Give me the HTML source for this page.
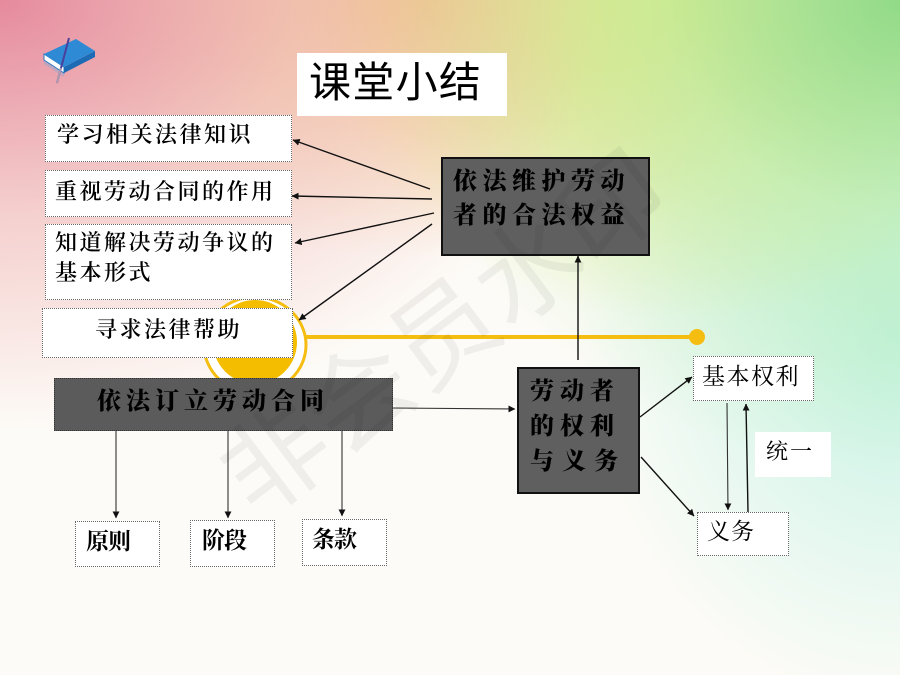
<!DOCTYPE html>
<html>
<head>
<meta charset="utf-8">
<style>
*{margin:0;padding:0;box-sizing:border-box;}
html,body{width:900px;height:675px;overflow:hidden;}
body{position:relative;font-family:"Liberation Serif","Noto Serif CJK SC",serif;
background:
 radial-gradient(ellipse 600px 430px at 0 0, rgba(228,132,152,0.95) 0%, rgba(236,165,165,0.5) 50%, rgba(240,200,190,0) 100%),
 radial-gradient(ellipse 520px 470px at 900px 0, rgba(145,218,135,1) 0%, rgba(180,235,170,0.6) 45%, rgba(200,245,220,0) 100%),
 radial-gradient(ellipse 360px 320px at 680px 0, rgba(236,232,112,1) 0%, rgba(240,238,150,0) 100%),
 radial-gradient(ellipse 320px 380px at 900px 330px, rgba(190,242,226,0.9) 0%, rgba(200,245,235,0) 100%),
 radial-gradient(ellipse 420px 260px at 430px 0, rgba(242,205,150,1) 0%, rgba(245,220,180,0) 100%),
 #fdfbf7;}
.abs{position:absolute;}
.wbox{position:absolute;background:#fff;border:1px dotted #666;}
.dbox{position:absolute;background:#5f5f5f;border:2px solid #111;}
.t{position:absolute;white-space:nowrap;color:#000;}
.lt{font-size:22px;letter-spacing:2.5px;line-height:30px;font-weight:600;font-family:"Liberation Serif","Noto Serif CJK SC",serif;}
.st{font-size:23px;line-height:30px;font-weight:700;letter-spacing:-1px;font-family:"Liberation Serif","Noto Serif CJK SC",serif;}
.rt{font-size:23px;line-height:30px;font-family:"Liberation Serif","Noto Serif CJK SC",serif;}
.svgdt{font-family:"Liberation Serif","Noto Serif CJK SC",serif;font-size:24px;font-weight:900;}
</style>
</head>
<body>

<!-- yellow decoration -->
<svg class="abs" style="left:0;top:0" width="900" height="675">
  <line x1="300" y1="337" x2="697" y2="337" stroke="#f5bd10" stroke-width="4"/>
  <circle cx="697" cy="337" r="8" fill="#f5bd10"/>
  <ellipse cx="255" cy="345" rx="51" ry="48" fill="#fff" stroke="#f5bd10" stroke-width="3"/>
  <circle cx="255" cy="342" r="42" fill="#f5bd00"/>
</svg>

<!-- book icon -->
<svg class="abs" style="left:0;top:0" width="120" height="100">
  <polygon points="44,60 64,73 64,77 44,64" fill="#7aa9d8" opacity="0.4"/>
  <polygon points="44,54 64,67 64,73 44,60" fill="#ffffff" stroke="#2a78c0" stroke-width="1"/>
  <polygon points="64,67 95,51 95,57 64,73" fill="#1d6bb5"/>
  <polygon points="44,54 76,39 95,51 64,67" fill="#2f8ad6"/>
  <line x1="69" y1="38" x2="57" y2="83" stroke="#4a3f9a" stroke-width="2"/>
  <line x1="61" y1="68" x2="57" y2="83" stroke="#b09ab0" stroke-width="2"/>
</svg>

<!-- title -->
<div class="abs" style="left:297px;top:53px;width:210px;height:63px;background:#fff;"></div>
<div class="t" style="left:309px;top:53px;font-size:42px;line-height:60px;letter-spacing:1.3px;font-family:'Liberation Sans','Noto Sans CJK SC',sans-serif;">课堂小结</div>

<!-- left white boxes -->
<div class="wbox" style="left:45px;top:115px;width:247px;height:47px;"></div>
<div class="t lt" style="left:57px;top:120px;">学习相关法律知识</div>

<div class="wbox" style="left:45px;top:170px;width:247px;height:47px;"></div>
<div class="t lt" style="left:55px;top:177px;">重视劳动合同的作用</div>

<div class="wbox" style="left:45px;top:224px;width:247px;height:76px;"></div>
<div class="t lt" style="left:55px;top:228px;">知道解决劳动争议的</div>
<div class="t lt" style="left:55px;top:258px;">基本形式</div>

<div class="wbox" style="left:42px;top:308px;width:251px;height:50px;"></div>
<div class="t lt" style="left:95px;top:315px;">寻求法律帮助</div>

<!-- dark boxes -->
<div class="dbox" style="left:441px;top:157px;width:209px;height:99px;"></div>
<div class="dbox" style="left:517px;top:367px;width:123px;height:127px;"></div>
<div class="abs" style="left:54px;top:378px;width:339px;height:53px;background:#5b5b5b;border:1px dotted #333;"></div>

<svg class="abs" style="left:0;top:0" width="900" height="675">
  <g class="svgdt" fill="#000">
    <text x="453" y="189" style="letter-spacing:5.5px">依法维护劳动</text>
    <text x="453" y="223" style="letter-spacing:5.5px">者的合法权益</text>
    <text x="530" y="399" style="letter-spacing:6px">劳动者</text>
    <text x="530" y="434" style="letter-spacing:6px">的权利</text>
    <text x="530" y="469" style="letter-spacing:8px">与义务</text>
    <text x="97" y="409" style="letter-spacing:5px">依法订立劳动合同</text>
  </g>
</svg>

<!-- bottom small boxes -->
<div class="wbox" style="left:75px;top:521px;width:85px;height:46px;"></div>
<div class="t st" style="left:86px;top:527px;">原则</div>
<div class="wbox" style="left:190px;top:520px;width:85px;height:47px;"></div>
<div class="t st" style="left:202px;top:526px;">阶段</div>
<div class="wbox" style="left:302px;top:519px;width:85px;height:47px;"></div>
<div class="t st" style="left:312px;top:525px;">条款</div>

<!-- right boxes -->
<div class="wbox" style="left:693px;top:356px;width:121px;height:45px;"></div>
<div class="t rt" style="left:702px;top:362px;letter-spacing:1.5px;">基本权利</div>
<div class="wbox" style="left:697px;top:512px;width:92px;height:44px;"></div>
<div class="t rt" style="left:707px;top:517px;letter-spacing:1px;">义务</div>
<div class="abs" style="left:755px;top:432px;width:76px;height:45px;background:#fff;"></div>
<div class="t rt" style="left:766px;top:437px;font-size:22px;letter-spacing:2px;">统一</div>

<!-- arrows -->
<svg class="abs" style="left:0;top:0" width="900" height="675">
  <defs>
    <marker id="ah" viewBox="0 0 10 10" refX="9.5" refY="5" markerWidth="7" markerHeight="7" markerUnits="userSpaceOnUse" orient="auto">
      <path d="M0,0 L10,5 L0,10 z" fill="#111"/>
    </marker>
  </defs>
  <g stroke="#111" stroke-width="1.4" fill="none" marker-end="url(#ah)">
    <line x1="430" y1="189" x2="293" y2="140"/>
    <line x1="432" y1="199" x2="292" y2="196"/>
    <line x1="434" y1="213" x2="295" y2="243"/>
    <line x1="432" y1="224" x2="299" y2="320"/>
    <line x1="578" y1="360" x2="578" y2="256"/>
    <line x1="640" y1="417" x2="692" y2="377"/>
    <line x1="641" y1="457" x2="694" y2="516"/>
    <line x1="748" y1="512" x2="746" y2="404"/>
  </g>
  <g stroke="#333" stroke-width="1.1" fill="none" marker-end="url(#ah)">
    <line x1="392" y1="408" x2="515" y2="409"/>
    <line x1="727" y1="403" x2="728" y2="510"/>
    <line x1="116" y1="431" x2="116" y2="518"/>
    <line x1="228" y1="431" x2="228" y2="518"/>
    <line x1="342" y1="431" x2="342" y2="516"/>
  </g>
</svg>

<!-- watermark -->
<div class="t" style="left:445px;top:335px;transform:translate(-50%,-50%) rotate(-37deg);font-size:105px;line-height:110px;font-weight:400;color:rgba(0,0,0,0.05);font-family:'Liberation Sans','Noto Sans CJK SC',sans-serif;">非会员水印</div>

</body>
</html>
